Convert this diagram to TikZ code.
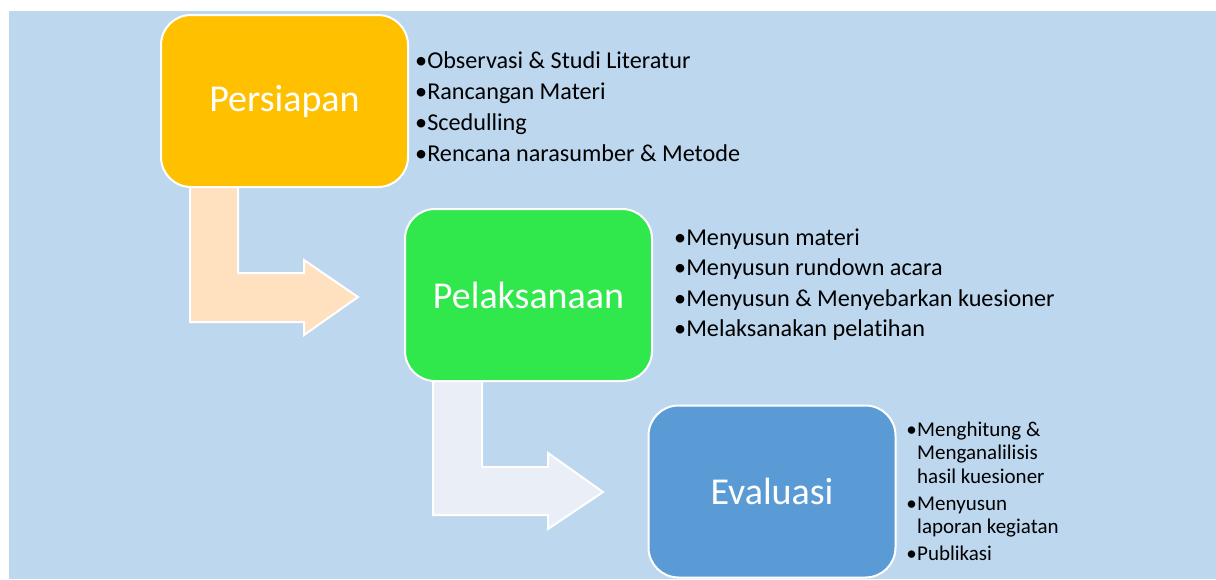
\documentclass[tikz,border=0pt]{standalone}
\usepackage{fontspec}
\setmainfont{Carlito}[Ligatures=NoCommon]
\usetikzlibrary{positioning}
\usetikzlibrary{calc}

\definecolor{bgblue}{HTML}{BDD7EE}
\definecolor{prsfill}{HTML}{FFC000}
\definecolor{plkfill}{HTML}{30E84B}
\definecolor{evlfill}{HTML}{5B9BD5}
\definecolor{arrpeach}{HTML}{FFE1C0}
\definecolor{arrpale}{HTML}{E9EEF7}

\tikzset{
  stagebox/.style={draw=white, line width=2pt, rounded corners=30pt,
    minimum width=247pt, minimum height=172pt, text=white,
    font=\fontsize{38}{44}\selectfont},
  bentarrow/.style={draw=white, line width=2pt, line join=miter},
  itemtxt/.style={anchor=base west, inner sep=0pt, font=\fontsize{24.2}{28}\selectfont},
  smalltxt/.style={anchor=base west, inner sep=0pt, font=\fontsize{21}{24}\selectfont}
}

\begin{document}
\begin{tikzpicture}[x=1pt, y=-1pt]

  \useasboundingbox (0,0) rectangle (1216,579);
  \fill[bgblue] (9,11) rectangle (1216,579);

  % bent arrows (under the boxes)
  \draw[bentarrow, fill=arrpeach] (190,180) -- (238,180) -- (238,273) -- (304,273) -- (304,260)
      -- (358,297) -- (304,335) -- (304,322) -- (190,322) -- cycle;
  \draw[bentarrow, fill=arrpale] (433,372) -- (482,372) -- (482,467) -- (548,467) -- (548,453)
      -- (603,492) -- (548,529) -- (548,515) -- (433,515) -- cycle;

  % stages
  \node[stagebox, fill=prsfill] (prs) at (284.5,101) {Persiapan};
  \node[stagebox, fill=plkfill] (plk) at (528.5,295) {Pelaksanaan};
  \node[stagebox, fill=evlfill] (evl) at (772,491.5) {Evaluasi};

  % lists
  \def\dx{415};
  \foreach \i/\txt/\name in {0/Observasi \& Studi Literatur/p1, 1/Rancangan Materi/p2,
      2/Scedulling/p3, 3/Rencana narasumber \& Metode/p4} {
    \node[itemtxt] (\name) at (\dx, 68+\i*31) {•\txt};
  }

  \def\dx{674};
  \foreach \i/\txt/\name in {0/Menyusun materi/k1, 1/Menyusun rundown acara/k2,
      2/Menyusun \& Menyebarkan kuesioner/k3, 3/Melaksanakan pelatihan/k4} {
    \node[itemtxt] (\name) at (\dx, 245+\i*30.5) {•\txt};
  }

  \def\dx{917};
  \foreach \y/\txt/\name in {436/Menghitung \&/e1, 459/Menganalilisis/e2, 483/hasil kuesioner/e3,
      510/Menyusun/e4, 533/laporan kegiatan/e5, 560/Publikasi/e6} {
    \node[smalltxt] (\name) at (\dx, \y) {\txt};
  }
  \foreach \name in {e1,e4,e6} {
    \node[smalltxt, anchor=base east] at (\name.base west) {•\hspace{3pt}};
  }

\end{tikzpicture}
\end{document}
